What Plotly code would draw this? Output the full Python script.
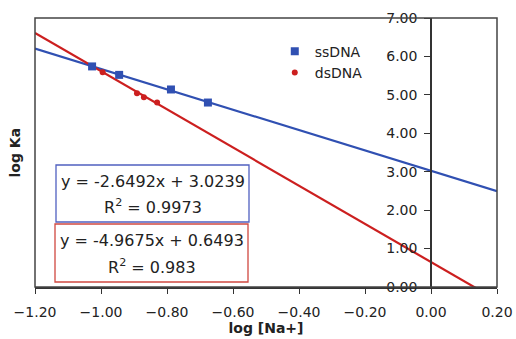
import plotly.graph_objects as go

# Data
ss_x = [-1.027, -0.945, -0.788, -0.676]
ss_y = [5.74, 5.52, 5.14, 4.80]
ds_x = [-0.995, -0.891, -0.870, -0.830]
ds_y = [5.59, 5.04, 4.94, 4.80]
# trendline coefficients (slope, intercept)
ss_fit = [-2.6492, 3.0239]
ds_fit = [-4.9675, 0.6493]
ss_r2 = "0.9973"
ds_r2 = "0.983"
x_range = [-1.2, 0.2]
y_range = [0, 7]

BLUE = "#3050B2"
RED = "#CC1F1F"
FONT = "DejaVu Sans"

fig = go.Figure()

line_x = [x_range[0], x_range[1]]
fig.add_trace(go.Scatter(x=line_x, y=[ss_fit[0] * v + ss_fit[1] for v in line_x],
                         mode="lines", line=dict(color=BLUE, width=2.2),
                         showlegend=False, hoverinfo="skip"))
fig.add_trace(go.Scatter(x=line_x, y=[ds_fit[0] * v + ds_fit[1] for v in line_x],
                         mode="lines", line=dict(color=RED, width=2.2),
                         showlegend=False, hoverinfo="skip"))
fig.add_trace(go.Scatter(x=ss_x, y=ss_y, mode="markers", name="ssDNA",
                         marker=dict(symbol="square", size=8, color=BLUE)))
fig.add_trace(go.Scatter(x=ds_x, y=ds_y, mode="markers", name="dsDNA",
                         marker=dict(symbol="circle", size=6, color=RED)))

L, R, T, B = 35, 19, 18, 52
W, H = 516, 339
pw = W - L - R
ph = H - T - B
yaxis_pos = (0 - x_range[0]) / (x_range[1] - x_range[0])


def px_x(p):
    return (p - L) / pw


def px_y(p):
    return (H - B - p) / ph


boxes = [
    (56, 165, 249, 222, "#5060C0",
     f"y = {ss_fit[0]}x + {ss_fit[1]}", f"R<sup>2</sup> = {ss_r2}"),
    (55, 224, 248, 282, "#D04840",
     f"y = {ds_fit[0]}x + {ds_fit[1]}", f"R<sup>2</sup> = {ds_r2}"),
]
shapes = [dict(type="rect", xref="paper", yref="paper", x0=0, y0=0, x1=1, y1=1,
               line=dict(color="#444", width=1.5))]
annotations = [
    dict(text="<b>log Ka</b>", textangle=-90, xref="paper", yref="paper",
         x=px_x(14), y=0.5, showarrow=False, font=dict(size=14),
         xanchor="center", yanchor="middle"),
]
for x0, y0, x1, y1, col, l1, l2 in boxes:
    shapes.append(dict(type="rect", xref="paper", yref="paper",
                       x0=px_x(x0), x1=px_x(x1), y0=px_y(y1), y1=px_y(y0),
                       line=dict(color=col, width=1.3), fillcolor="white",
                       layer="above"))
    cx = px_x((x0 + x1) / 2)
    annotations.append(dict(text=l1, xref="paper", yref="paper", x=cx,
                            y=px_y(y0 + 16), showarrow=False, font=dict(size=16),
                            xanchor="center", yanchor="middle"))
    annotations.append(dict(text=l2, xref="paper", yref="paper", x=cx,
                            y=px_y(y0 + 42), showarrow=False, font=dict(size=16),
                            xanchor="center", yanchor="middle"))

fig.update_layout(
    width=W, height=H,
    margin=dict(l=L, r=R, t=T, b=B, autoexpand=False),
    plot_bgcolor="white", paper_bgcolor="white",
    font=dict(family=FONT, size=14, color="#222"),
    xaxis=dict(range=x_range, dtick=0.2, tick0=-1.2, tickformat=".2f",
               showgrid=False, zeroline=False, showline=True, linecolor="#333",
               linewidth=1.5, ticks="outside", ticklen=5, tickcolor="#333",
               ticklabelstandoff=6,
               title=dict(text="<b>log [Na+]</b>", font=dict(size=14), standoff=3),
               tickfont=dict(size=14), automargin=False),
    yaxis=dict(range=y_range, dtick=1, tickformat=".2f", showgrid=False,
               zeroline=False, showline=True, linecolor="#333", linewidth=1.5,
               ticks="outside", ticklen=6, tickcolor="#333", ticklabelstandoff=4,
               anchor="free", position=yaxis_pos, tickfont=dict(size=14),
               automargin=False),
    legend=dict(x=0.519, y=0.934, xanchor="left", yanchor="top",
                bgcolor="rgba(0,0,0,0)", font=dict(size=14)),
    shapes=shapes,
    annotations=annotations,
)

fig.write_html("out.html", config={"displayModeBar": False},
               post_script="document.body.style.margin='0px';document.body.style.overflow='hidden';")
